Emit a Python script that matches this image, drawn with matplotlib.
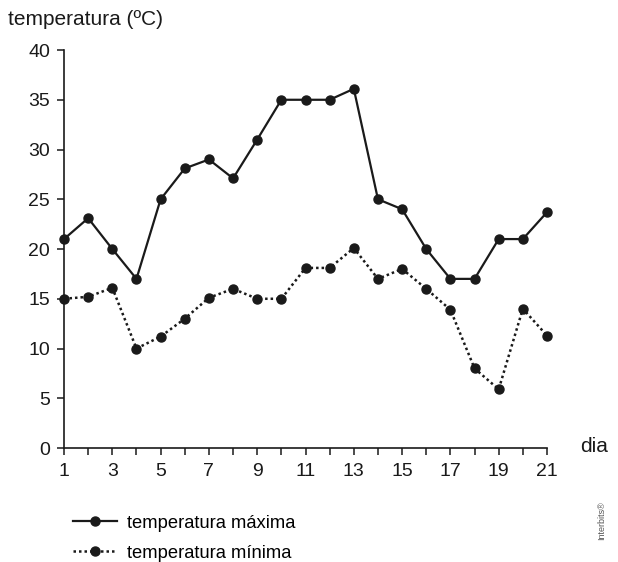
import matplotlib
matplotlib.use("Agg")
import matplotlib.pyplot as plt
from matplotlib.lines import Line2D

plt.rcParams['font.family'] = ['Liberation Sans', 'DejaVu Sans']

days = list(range(1, 22))
temp_max = [21, 23.1, 20, 17, 25, 28.1, 29, 27.1, 31, 35, 35, 35, 36.1, 25, 24, 20, 17, 17, 21, 21, 23.7]
temp_min = [15, 15.2, 16.1, 10, 11.2, 13, 15.1, 16, 15, 15, 18.1, 18.1, 20.1, 17, 18, 16, 13.9, 8, 5.9, 14, 11.3]
xtick_labels = [1, 3, 5, 7, 9, 11, 13, 15, 17, 19, 21]
yticks = [0, 5, 10, 15, 20, 25, 30, 35, 40]

fig = plt.figure(figsize=(6.18, 5.62), dpi=100)
ax = fig.add_axes([0.1036, 0.2028, 0.7815, 0.7082])

c = '#1a1a1a'
fs = 14
ax.plot(days, temp_max, color=c, lw=1.6, marker='o', ms=6.5, clip_on=False)
ax.plot(days, temp_min, color=c, lw=1.8, ls=(0, (1, 1.2)), marker='o', ms=6.5, clip_on=False)

ax.set_xlim(1, 21)
ax.set_ylim(0, 40)
ax.set_xticks(days)
ax.set_xticklabels([str(d) if d in xtick_labels else '' for d in days])
ax.set_yticks(yticks)
for s in ['top', 'right']:
    ax.spines[s].set_visible(False)
for s in ['left', 'bottom']:
    ax.spines[s].set_linewidth(1.2)
    ax.spines[s].set_color(c)
ax.tick_params(axis='both', direction='out', length=5, width=1.1, color=c, labelsize=fs, labelcolor=c)
ax.tick_params(axis='x', pad=6)
ax.tick_params(axis='y', pad=5)

fig.text(0.013, 0.9555, 'temperatura (ºC)', fontsize=15, color=c, ha='left', va='baseline')
fig.text(0.938, 0.196, 'dia', fontsize=15, color=c, ha='left', va='baseline')

handles = [Line2D([], [], color=c, lw=1.6, marker='o', ms=6.5),
           Line2D([], [], color=c, lw=1.8, ls=(0, (1, 1.2)), marker='o', ms=6.5)]
fig.legend(handles, ['temperatura máxima', 'temperatura mínima'], loc='upper left',
           bbox_to_anchor=(0.118, 0.084), frameon=False, fontsize=13.2,
           handlelength=2.4, handletextpad=0.55, labelspacing=0.7,
           borderaxespad=0, borderpad=0)

fig.text(0.973, 0.04, 'Interbits®', fontsize=6.5, color='#555555', rotation=90, ha='center', va='bottom')

fig.savefig('out.png', dpi=100)
